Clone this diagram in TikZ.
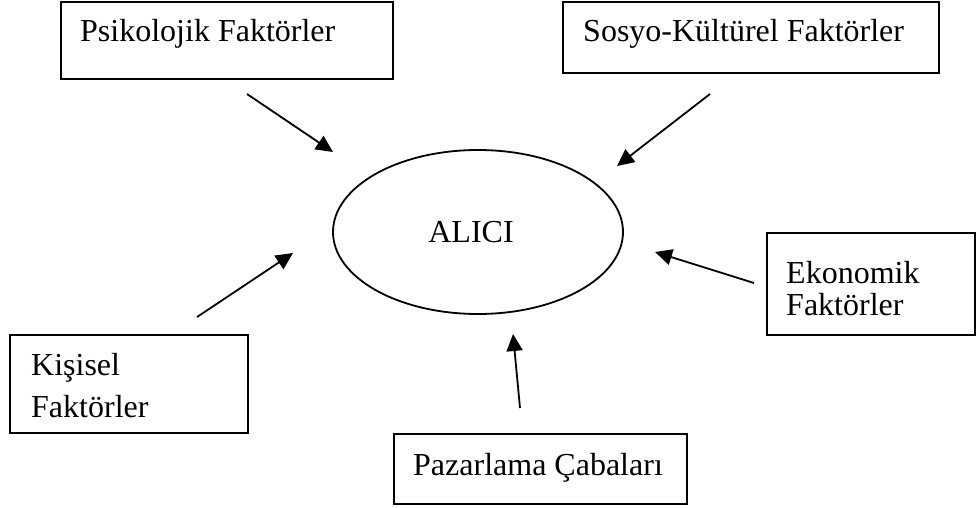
\documentclass[tikz,border=0pt]{standalone}
\usepackage{fontspec}
\setmainfont{Liberation Serif}
\usetikzlibrary{arrows.meta,shapes.geometric}
\tikzset{
  factorbox/.style={draw, line width=1.8pt, rectangle, inner sep=0pt, anchor=north west},
  boxlabel/.style={anchor=base west, inner sep=0pt, font=\fontsize{32}{38}\selectfont},
  influence/.style={line width=1.8pt, -{Triangle[length=17pt,width=16pt]}},
}
\begin{document}
\begin{tikzpicture}[x=1pt, y=-1pt]
  \useasboundingbox (0,0) rectangle (976,508);

  % central buyer ellipse
  \node[draw, ellipse, line width=1.8pt, minimum width=290pt, minimum height=164pt, inner sep=0pt] (buyer) at (478,232) {};
  \node[anchor=base, inner sep=0pt, font=\fontsize{32}{38}\selectfont] (buyerlabel) at (471,242) {ALICI};

  % factor boxes
  \node[factorbox, minimum width=332pt, minimum height=77pt] (psi) at (60,1) {};
  \node[boxlabel] (psitext) at (80,42) {Psikolojik Faktörler};

  \node[factorbox, minimum width=376pt, minimum height=71pt] (sos) at (562,1) {};
  \node[boxlabel] (sostext) at (583,42) {Sosyo-Kültürel Faktörler};

  \node[factorbox, minimum width=238pt, minimum height=98pt] (kis) at (9,334) {};
  \node[boxlabel] (kistextA) at (31,375) {Kişisel};
  \node[boxlabel] (kistextB) at (31,417) {Faktörler};

  \node[factorbox, minimum width=208pt, minimum height=102pt] (eko) at (766,232) {};
  \node[boxlabel] (ekotextA) at (786,283) {Ekonomik};
  \node[boxlabel] (ekotextB) at (786,315) {Faktörler};

  \node[factorbox, minimum width=293pt, minimum height=70pt] (paz) at (393,433) {};
  \node[boxlabel] (paztext) at (413,475) {Pazarlama Çabaları};

  % arrow end points
  \coordinate (psiS) at (247,94);   \coordinate (psiE) at (333,152);
  \coordinate (sosS) at (710,94);   \coordinate (sosE) at (617,166);
  \coordinate (kisS) at (197,317);  \coordinate (kisE) at (293,253);
  \coordinate (ekoS) at (754,283);  \coordinate (ekoE) at (655,252);
  \coordinate (pazS) at (520,408);  \coordinate (pazE) at (513,334);

  % influences on the buyer
  \draw[influence] (psiS) -- (psiE);
  \draw[influence] (sosS) -- (sosE);
  \draw[influence] (kisS) -- (kisE);
  \draw[influence] (ekoS) -- (ekoE);
  \draw[influence] (pazS) -- (pazE);
\end{tikzpicture}
\end{document}
